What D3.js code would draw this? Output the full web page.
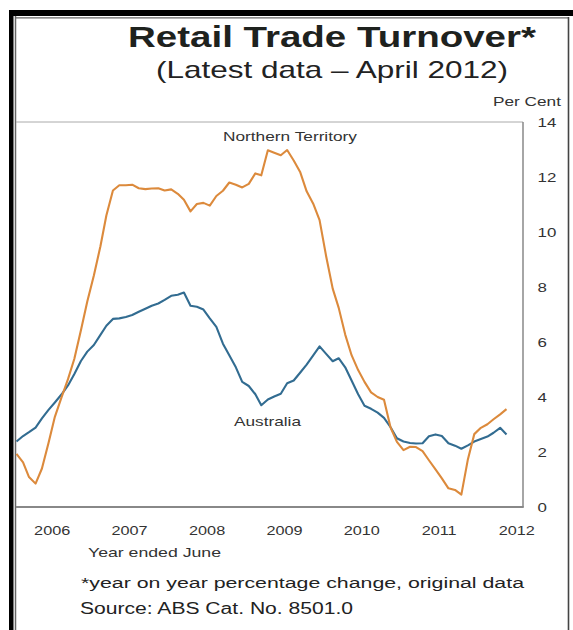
<!DOCTYPE html>
<html>
<head>
<meta charset="utf-8">
<script src="https://cdn.jsdelivr.net/npm/d3@7"></script>
<style>
  html, body { margin: 0; padding: 0; background: #fff; }
  svg { display: block; font-family: "Liberation Sans", Arial, Helvetica, sans-serif; }
</style>
</head>
<body>
<svg id="chart" width="573" height="630"></svg>
<script>
// Monthly series, year-on-year % change in retail turnover (original data)
const firstMonth = "2005-12";
const lastMonth = "2012-04";

const ntValues = [
  1.93, 1.62, 1.09, 0.85, 1.40, 2.33, 3.28, 3.98, 4.65, 5.39,
  6.43, 7.47, 8.42, 9.48, 10.60, 11.51, 11.70, 11.70, 11.72, 11.59,
  11.56, 11.58, 11.59, 11.51, 11.55, 11.39, 11.17, 10.75, 11.02, 11.06,
  10.96, 11.31, 11.50, 11.80, 11.72, 11.62, 11.75, 12.13, 12.06, 12.97,
  12.88, 12.79, 12.98, 12.60, 12.17, 11.48, 11.03, 10.43, 9.12, 7.94,
  7.25, 6.27, 5.52, 4.98, 4.55, 4.17, 4.00, 3.90, 2.89, 2.37,
  2.07, 2.19, 2.18, 2.03, 1.70, 1.37, 1.04, 0.68, 0.62, 0.45,
  1.74, 2.65, 2.88, 3.01, 3.19, 3.37, 3.56
];

const ausValues = [
  2.38, 2.58, 2.72, 2.89, 3.22, 3.53, 3.80, 4.09, 4.42, 4.84,
  5.31, 5.65, 5.89, 6.26, 6.59, 6.84, 6.86, 6.91, 6.98, 7.10,
  7.21, 7.32, 7.40, 7.53, 7.68, 7.72, 7.80, 7.32, 7.28, 7.18,
  6.86, 6.55, 5.94, 5.52, 5.08, 4.55, 4.40, 4.10, 3.70, 3.91,
  4.02, 4.12, 4.50, 4.60, 4.89, 5.18, 5.51, 5.84, 5.57, 5.30,
  5.41, 5.08, 4.60, 4.10, 3.68, 3.57, 3.43, 3.24, 2.90, 2.50,
  2.38, 2.33, 2.31, 2.32, 2.57, 2.64, 2.58, 2.32, 2.23, 2.12,
  2.24, 2.38, 2.47, 2.56, 2.70, 2.88, 2.64
];

const yearLabels = [2006, 2007, 2008, 2009, 2010, 2011, 2012];
const yTicks = [0, 2, 4, 6, 8, 10, 12, 14];

const seriesNames = { nt: "Northern Territory", aus: "Australia" };
const colors = { nt: "#dc8a3c", aus: "#326c91" };

// ---- layout ----
const W = 573, H = 630;
const plot = { left: 16, right: 523, top: 122, bottom: 507 };

const svg = d3.select("#chart");
svg.append("rect").attr("width", W).attr("height", H).attr("fill", "#fff");

// each data point sits at the end of its month
const parseMonth = d3.timeParse("%Y-%m");
const months = d3.timeMonth
  .range(parseMonth(firstMonth), d3.timeMonth.offset(parseMonth(lastMonth), 1))
  .map(d => d3.timeDay.offset(d3.timeMonth.offset(d, 1), -1));

const x = d3.scaleTime()
  .domain([months[0], months[months.length - 1]])
  .range([16.5, 506.5]);

const y = d3.scaleLinear()
  .domain([0, 14])
  .range([plot.bottom, plot.top]);

// ---- outer frame ----
svg.append("rect").attr("x", 9).attr("y", 10).attr("width", W - 9).attr("height", 6).attr("fill", "#000");
svg.append("rect").attr("x", 9).attr("y", 10).attr("width", 4.5).attr("height", H - 10).attr("fill", "#000");
svg.append("line").attr("x1", 15.5).attr("x2", 15.5).attr("y1", 16).attr("y2", H)
  .attr("stroke", "#666").attr("stroke-width", 1.5);
svg.append("line").attr("x1", 15).attr("x2", 568.5).attr("y1", 17.8).attr("y2", 17.8)
  .attr("stroke", "#666").attr("stroke-width", 1.3);
svg.append("line").attr("x1", 568.5).attr("x2", 568.5).attr("y1", 17).attr("y2", H)
  .attr("stroke", "#444").attr("stroke-width", 1.6);

// ---- plot box ----
svg.append("line").attr("x1", plot.left).attr("x2", plot.right).attr("y1", y(14)).attr("y2", y(14))
  .attr("stroke", "#aaa").attr("stroke-width", 1);
svg.append("line").attr("x1", plot.right).attr("x2", plot.right).attr("y1", y(14)).attr("y2", y(0))
  .attr("stroke", "#888").attr("stroke-width", 1.5);
svg.append("line").attr("x1", plot.left).attr("x2", plot.right + 0.75).attr("y1", y(0)).attr("y2", y(0))
  .attr("stroke", "#888").attr("stroke-width", 2);

// ---- axes ----
const xAxis = d3.axisBottom(x)
  .tickValues(yearLabels.map(yr => new Date(yr, 5, 15)))
  .tickFormat(d3.timeFormat("%Y"))
  .tickSize(0);

const gx = svg.append("g")
  .attr("transform", `translate(0,${plot.bottom})`)
  .call(xAxis);
gx.select(".domain").remove();
gx.selectAll("text")
  .attr("y", null).attr("dy", null)
  .attr("transform", "translate(0,28) scale(1.25,1)")
  .attr("font-size", 13)
  .attr("font-family", "'Liberation Sans', Arial, sans-serif")
  .attr("fill", "#333");

const yAxis = d3.axisRight(y).tickValues(yTicks).tickSize(0);
const gy = svg.append("g")
  .attr("transform", `translate(${plot.right},0)`)
  .call(yAxis);
gy.select(".domain").remove();
gy.selectAll("text")
  .attr("x", null).attr("dy", "0.36em")
  .attr("transform", "translate(14.5,0) scale(1.3,1)")
  .attr("font-size", 13)
  .attr("font-family", "'Liberation Sans', Arial, sans-serif")
  .attr("fill", "#333");

// ---- series lines ----
const line = d3.line()
  .x((d, i) => x(months[i]))
  .y(d => y(d));

svg.append("path").datum(ausValues)
  .attr("d", line).attr("fill", "none")
  .attr("stroke", colors.aus).attr("stroke-width", 2.1)
  .attr("stroke-linejoin", "round");

svg.append("path").datum(ntValues)
  .attr("d", line).attr("fill", "none")
  .attr("stroke", colors.nt).attr("stroke-width", 2.1)
  .attr("stroke-linejoin", "round");

// ---- text ----
function label(txt, x0, yb, size, width, opts = {}) {
  return svg.append("text")
    .attr("x", x0).attr("y", yb)
    .attr("font-size", size)
    .attr("font-weight", opts.weight || "normal")
    .attr("fill", opts.fill || "#2a2a2a")
    .attr("textLength", width)
    .attr("lengthAdjust", "spacingAndGlyphs")
    .text(txt);
}

label("Retail Trade Turnover*", 128, 47, 30, 408, { weight: "bold", fill: "#1e221e" });
label("(Latest data \u2013 April 2012)", 156, 78, 24, 352, { fill: "#222" });
label("Per Cent", 493, 106, 13, 68, { fill: "#333" });

label(seriesNames.nt, 223, 141, 12.5, 134, { fill: "#333" });
label(seriesNames.aus, 234, 425.5, 13, 67, { fill: "#333" });

label("Year ended June", 88, 557, 13.5, 133, { fill: "#333" });
label("*year on year percentage change, original data", 81, 588, 15.5, 443, { fill: "#222" });
label("Source: ABS Cat. No. 8501.0", 80, 614, 16, 273, { fill: "#222" });
</script>
</body>
</html>
